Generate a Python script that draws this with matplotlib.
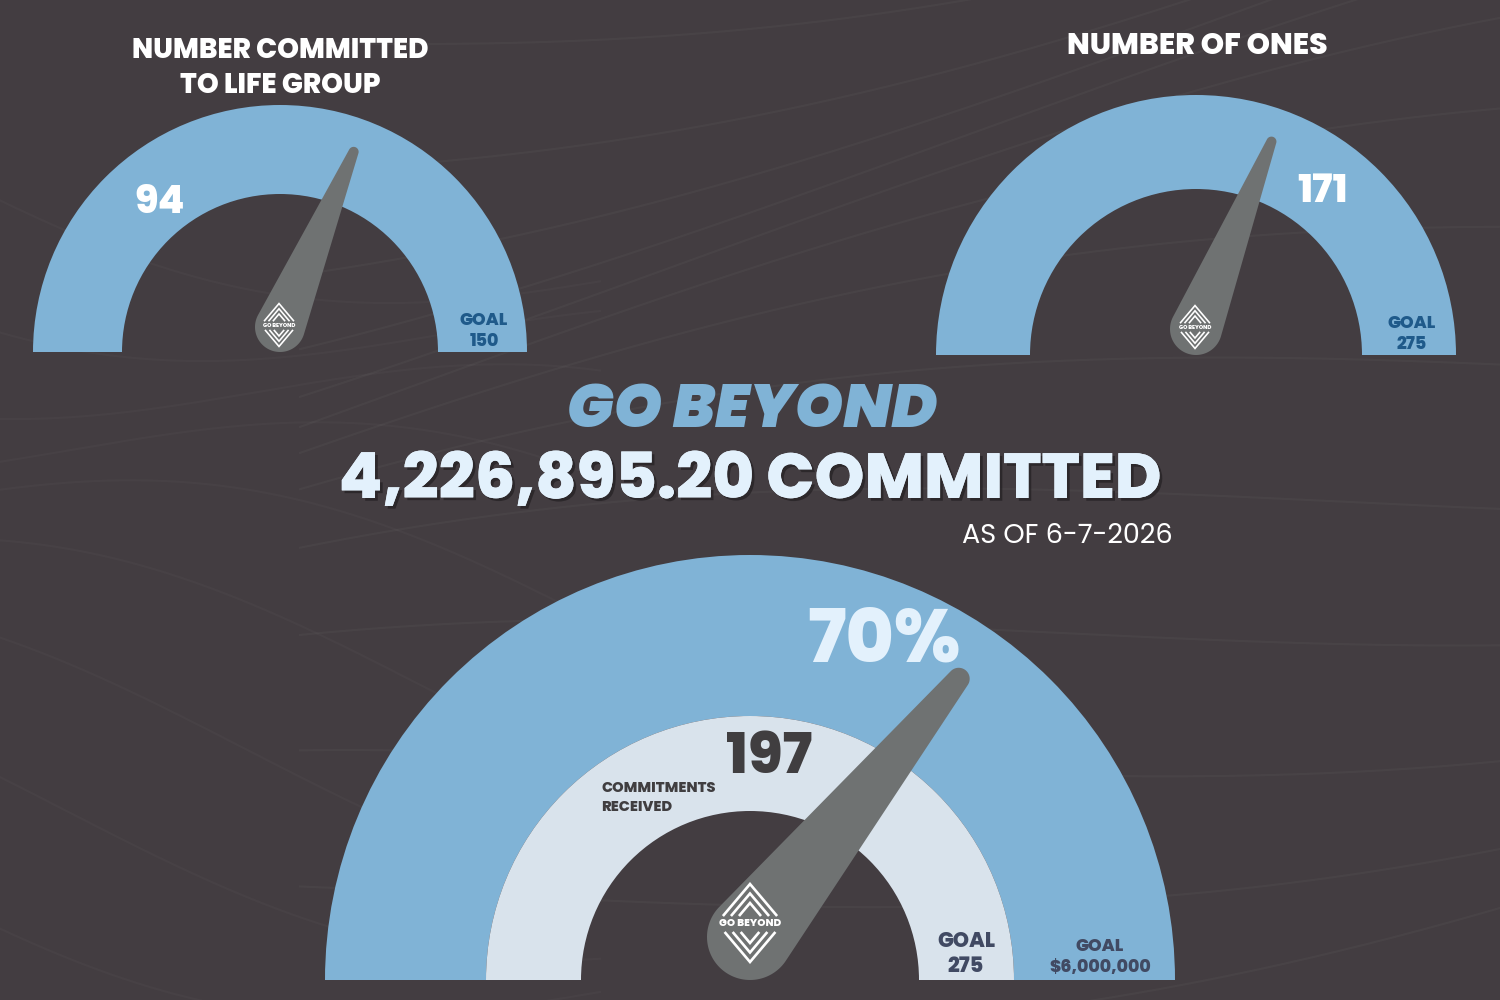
import numpy as np
import matplotlib
matplotlib.use("Agg")
import matplotlib.pyplot as plt
from matplotlib.patches import Wedge, Polygon
import matplotlib.patheffects as pe

# ---------------- data ----------------
gauge_titles = ["NUMBER COMMITTED\nTO LIFE GROUP", "NUMBER OF ONES"]
gauge_values = [94, 171]
gauge_goals = [150, 275]
commitments_received = 197
commitments_goal = 275
amount_committed = 4226895.20
amount_goal = 6000000
percent_label = "70%"
as_of = "AS OF 6-7-2026"
headline = "GO BEYOND"

# ---------------- style ----------------
BG = "#433d41"
BLUE = "#80b3d6"
LIGHT = "#d9e3ec"
NEEDLE = "#6f7272"
GOAL_SMALL = "#1f5a8a"
GOAL_BIG = "#414a63"
DARKTXT = "#403e40"
PALE = "#e3f1fc"
FONT = ["Poppins", "DejaVu Sans"]
W = 800

fig = plt.figure(figsize=(15, 10), dpi=100)
fig.patch.set_facecolor(BG)
ax = fig.add_axes([0, 0, 1, 1])
ax.set_xlim(0, 1500)
ax.set_ylim(0, 1000)
ax.set_aspect("equal")
ax.axis("off")
ax.set_facecolor(BG)


def Y(py):
    return 1000 - py


# subtle background texture (faint swirling lines)
for k in range(14):
    t = np.linspace(0, 1, 300)
    xs = 300 + 1400 * t
    ys = -100 + k * 85 + 120 * np.sin(t * 2.4 + k * 0.5) - 220 * t
    ax.plot(xs, Y(ys), color="white", alpha=0.03, lw=1.5, zorder=0)
for k in range(10):
    t = np.linspace(0, 1, 300)
    xs = -100 + 700 * t
    ys = 150 + k * 90 + 80 * np.sin(t * 3.0 + k * 0.8) + 120 * t
    ax.plot(xs, Y(ys), color="white", alpha=0.022, lw=1.5, zorder=0)


def polar(cx, cy, r, t):
    t = np.radians(t)
    return cx + r * np.cos(t), cy + r * np.sin(t)


def needle(cx, cy, R0, length, r1, frac, z=5):
    beta = 180.0 * (1 - frac)
    tx, ty = polar(cx, cy, length, beta)
    alpha = np.degrees(np.arccos((R0 - r1) / length))
    tip = np.linspace(beta + alpha, beta - alpha, 40)
    base = np.linspace(beta - alpha, beta + alpha - 360, 80)
    pts = [polar(tx, ty, r1, a) for a in tip] + [polar(cx, cy, R0, a) for a in base]
    ax.add_patch(Polygon(pts, closed=True, facecolor=NEEDLE, edgecolor="none", zorder=z))


def logo(cx, cy, s, fs, z=7):
    hh, hw = 39 * s, 33 * s
    gap = 9.5 * s
    ytop = cy + 8 * s
    ybot = cy - 10 * s
    lw = 1.6 * s + 0.3
    for k in range(3):
        ay = cy + hh - k * gap
        d = ay - ytop
        if d > 0:
            dx = d * hw / hh
            ax.plot([cx - dx, cx, cx + dx], [ytop, ay, ytop], color="white", lw=lw,
                    zorder=z, solid_joinstyle="miter")
        by = cy - hh + k * gap
        d = ybot - by
        if d > 0:
            dx = d * hw / hh
            ax.plot([cx - dx, cx, cx + dx], [ybot, by, ybot], color="white", lw=lw,
                    zorder=z, solid_joinstyle="miter")
    ax.text(cx, cy - 1 * s, "GO BEYOND", ha="center", va="center", color="white",
            fontsize=fs, fontweight=W, family=FONT, zorder=z + 1)


def gauge(cx, cy, R, r):
    ax.add_patch(Wedge((cx, Y(cy)), R, 0, 180, width=R - r, facecolor=BLUE,
                       edgecolor="none", zorder=2))


# ---------------- small gauges ----------------
small_specs = [
    # cx, cy, R, r, base_cy, R0, length, r1
    (280, 352, 247, 158, 327, 25, 190, 5),
    (1196, 355, 260, 166, 329, 26, 202, 5),
]
title_pos = [(280, 93), (1197, 54)]
title_size = [20, 21.5]
value_pos = [(160, 213), (1323, 202)]
goal_pos = [(484, 346), (1412, 349)]

for i, (cx, cy, R, r, bcy, R0, L, r1) in enumerate(small_specs):
    gauge(cx, cy, R, r)
    needle(cx, Y(bcy), R0, L, r1, gauge_values[i] / gauge_goals[i])
    logo(cx - 1, Y(bcy - 2), 0.55, 4.0)
    tx, ty = title_pos[i]
    ax.text(tx, Y(ty), gauge_titles[i], ha="center", va="baseline", color="white",
            fontsize=title_size[i], fontweight=W, family=FONT, linespacing=1.3, zorder=6)
    vx, vy = value_pos[i]
    ax.text(vx, Y(vy), str(gauge_values[i]), ha="center", va="baseline", color="white",
            fontsize=28, fontweight=W, family=FONT, zorder=6)
    gx, gy = goal_pos[i]
    ax.text(gx, Y(gy), f"GOAL\n{gauge_goals[i]}", ha="center", va="baseline",
            color=GOAL_SMALL, fontsize=12.5, fontweight=W, family=FONT,
            linespacing=1.2, zorder=6)

# ---------------- headline ----------------
ax.text(752, Y(427), headline, ha="center", va="baseline", color=BLUE, fontsize=44.5,
        fontweight=900, style="italic", family=FONT, zorder=6)
ax.text(750, Y(498), f"{amount_committed:,.2f} COMMITTED", ha="center", va="baseline",
        color=PALE, fontsize=45.8, fontweight=W, family=FONT, zorder=6,
        path_effects=[pe.withSimplePatchShadow(offset=(2, -2), shadow_rgbFace="#1e1a1d",
                                               alpha=0.6), pe.Normal()])
ax.text(1067, Y(543), as_of, ha="center", va="baseline", color="white", fontsize=19.5,
        fontweight=400, family=FONT, zorder=6)

# ---------------- big gauge ----------------
bcx, bcy = 750, 980
ax.add_patch(Wedge((bcx, Y(bcy)), 425, 0, 180, width=425 - 264, facecolor=BLUE,
                   edgecolor="none", zorder=2))
ax.add_patch(Wedge((bcx, Y(bcy)), 264, 0, 180, width=264 - 169, facecolor=LIGHT,
                   edgecolor="none", zorder=2))
needle(bcx, Y(937), 43, 332, 11, commitments_received / commitments_goal)
logo(bcx, Y(923), 1.0, 7.5)

ax.text(884, Y(662), percent_label, ha="center", va="baseline", color=PALE, fontsize=53,
        fontweight=W, family=FONT, zorder=6)
ax.text(769, Y(773), str(commitments_received), ha="center", va="baseline", color=DARKTXT,
        fontsize=41, fontweight=W, family=FONT, zorder=6)
ax.text(601, Y(811), "COMMITMENTS\nRECEIVED", ha="left", va="baseline", color=DARKTXT,
        fontsize=10.5, fontweight=W, family=FONT, linespacing=1.45, zorder=6)
ax.text(966, Y(972), f"GOAL\n{commitments_goal}", ha="center", va="baseline",
        color=GOAL_BIG, fontsize=15, fontweight=W, family=FONT, linespacing=1.2,
        zorder=6)
ax.text(1100, Y(972), f"GOAL\n${amount_goal:,.0f}", ha="center", va="baseline",
        color=GOAL_BIG, fontsize=12.5, fontweight=W, family=FONT, linespacing=1.25,
        zorder=6)

fig.savefig("out.png", dpi=100, facecolor=BG)
